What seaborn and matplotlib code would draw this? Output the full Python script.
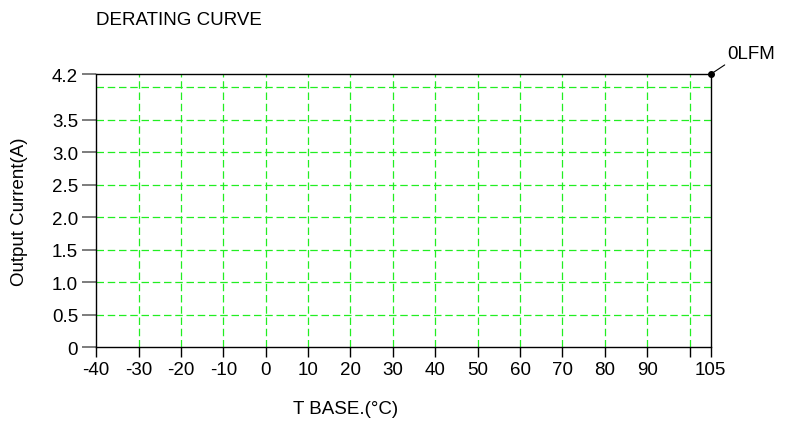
import matplotlib
matplotlib.use("Agg")
import matplotlib.pyplot as plt
import seaborn as sns
import pandas as pd

# derating curve data (0LFM)
temp_c = [-40, 105, 105]
current_a = [4.2, 4.2, 0.0]

x_ticks = [-40, -30, -20, -10, 0, 10, 20, 30, 40, 50, 60, 70, 80, 90, 100, 105]
x_labels = ["-40", "-30", "-20", "-10", "0", "10", "20", "30", "40", "50",
            "60", "70", "80", "90", "", "105"]
y_ticks = [0, 0.5, 1.0, 1.5, 2.0, 2.5, 3.0, 3.5, 4.2]
y_labels = ["0", "0.5", "1.0", "1.5", "2.0", "2.5", "3.0", "3.5", "4.2"]
x_grid = [-30, -20, -10, 0, 10, 20, 30, 40, 50, 60, 70, 80, 90, 100]
y_grid = [0.5, 1.0, 1.5, 2.0, 2.5, 3.0, 3.5, 4.0]

FS = 13.5


def main():
    sns.set_theme(style="white")
    plt.rcParams["font.family"] = ["Liberation Sans", "DejaVu Sans"]
    plt.rcParams["font.size"] = FS
    plt.rcParams["text.color"] = "black"
    plt.rcParams["xtick.color"] = "black"
    plt.rcParams["ytick.color"] = "black"

    df = pd.DataFrame({"T": temp_c, "I": current_a})

    fig = plt.figure(figsize=(7.88, 4.27), dpi=100)
    ax = fig.add_axes([0.122, 0.185, 0.78, 0.639])

    for gx in x_grid:
        ax.axvline(gx, color="#22ee22", lw=0.9, ls=(0, (6, 3)), zorder=1)
    for gy in y_grid:
        ax.axhline(gy, color="#22ee22", lw=0.9, ls=(0, (6, 3)), zorder=1)

    sns.lineplot(data=df, x="T", y="I", sort=False, estimator=None,
                 color="black", lw=1.0, ax=ax, clip_on=False, zorder=3)
    ax.plot([temp_c[1]], [current_a[1]], "o", color="black", ms=4,
            clip_on=False, zorder=4)
    ax.annotate("0LFM", xy=(temp_c[1], current_a[1]), xytext=(12, 9),
                textcoords="offset points", fontsize=FS, va="bottom",
                color="black",
                arrowprops=dict(arrowstyle="-", color="black", lw=0.8,
                                shrinkA=0, shrinkB=0, relpos=(0.1, 0.1)))

    ax.set_xlim(-40, 105)
    ax.set_ylim(0, 4.2)
    ax.set_xticks(x_ticks)
    ax.set_xticklabels(x_labels)
    ax.set_yticks(y_ticks)
    ax.set_yticklabels(y_labels)
    ax.tick_params(axis="x", length=7, width=1, color="black", pad=3,
                   bottom=True, labelsize=FS, labelcolor="black")
    ax.tick_params(axis="y", length=10, width=1.2, color="#666666", pad=3,
                   left=True, labelsize=FS, labelcolor="black")

    for side in ["top", "right"]:
        ax.spines[side].set_visible(False)
    for side in ["left", "bottom"]:
        ax.spines[side].set_color("black")
        ax.spines[side].set_linewidth(1.0)

    ax.set_xlabel("")
    ax.set_ylabel("")
    fig.text(0.122, 0.953, "DERATING CURVE", fontsize=FS, va="center",
             color="black")
    fig.text(0.438, 0.04, "T BASE.(°C)", fontsize=FS, ha="center",
             va="center", color="black")
    fig.text(0.025, 0.503, "Output Current(A)", fontsize=FS, rotation=90,
             ha="center", va="center", color="black")

    fig.savefig("out.png", dpi=100)
    plt.close(fig)


if __name__ == "__main__":
    main()
